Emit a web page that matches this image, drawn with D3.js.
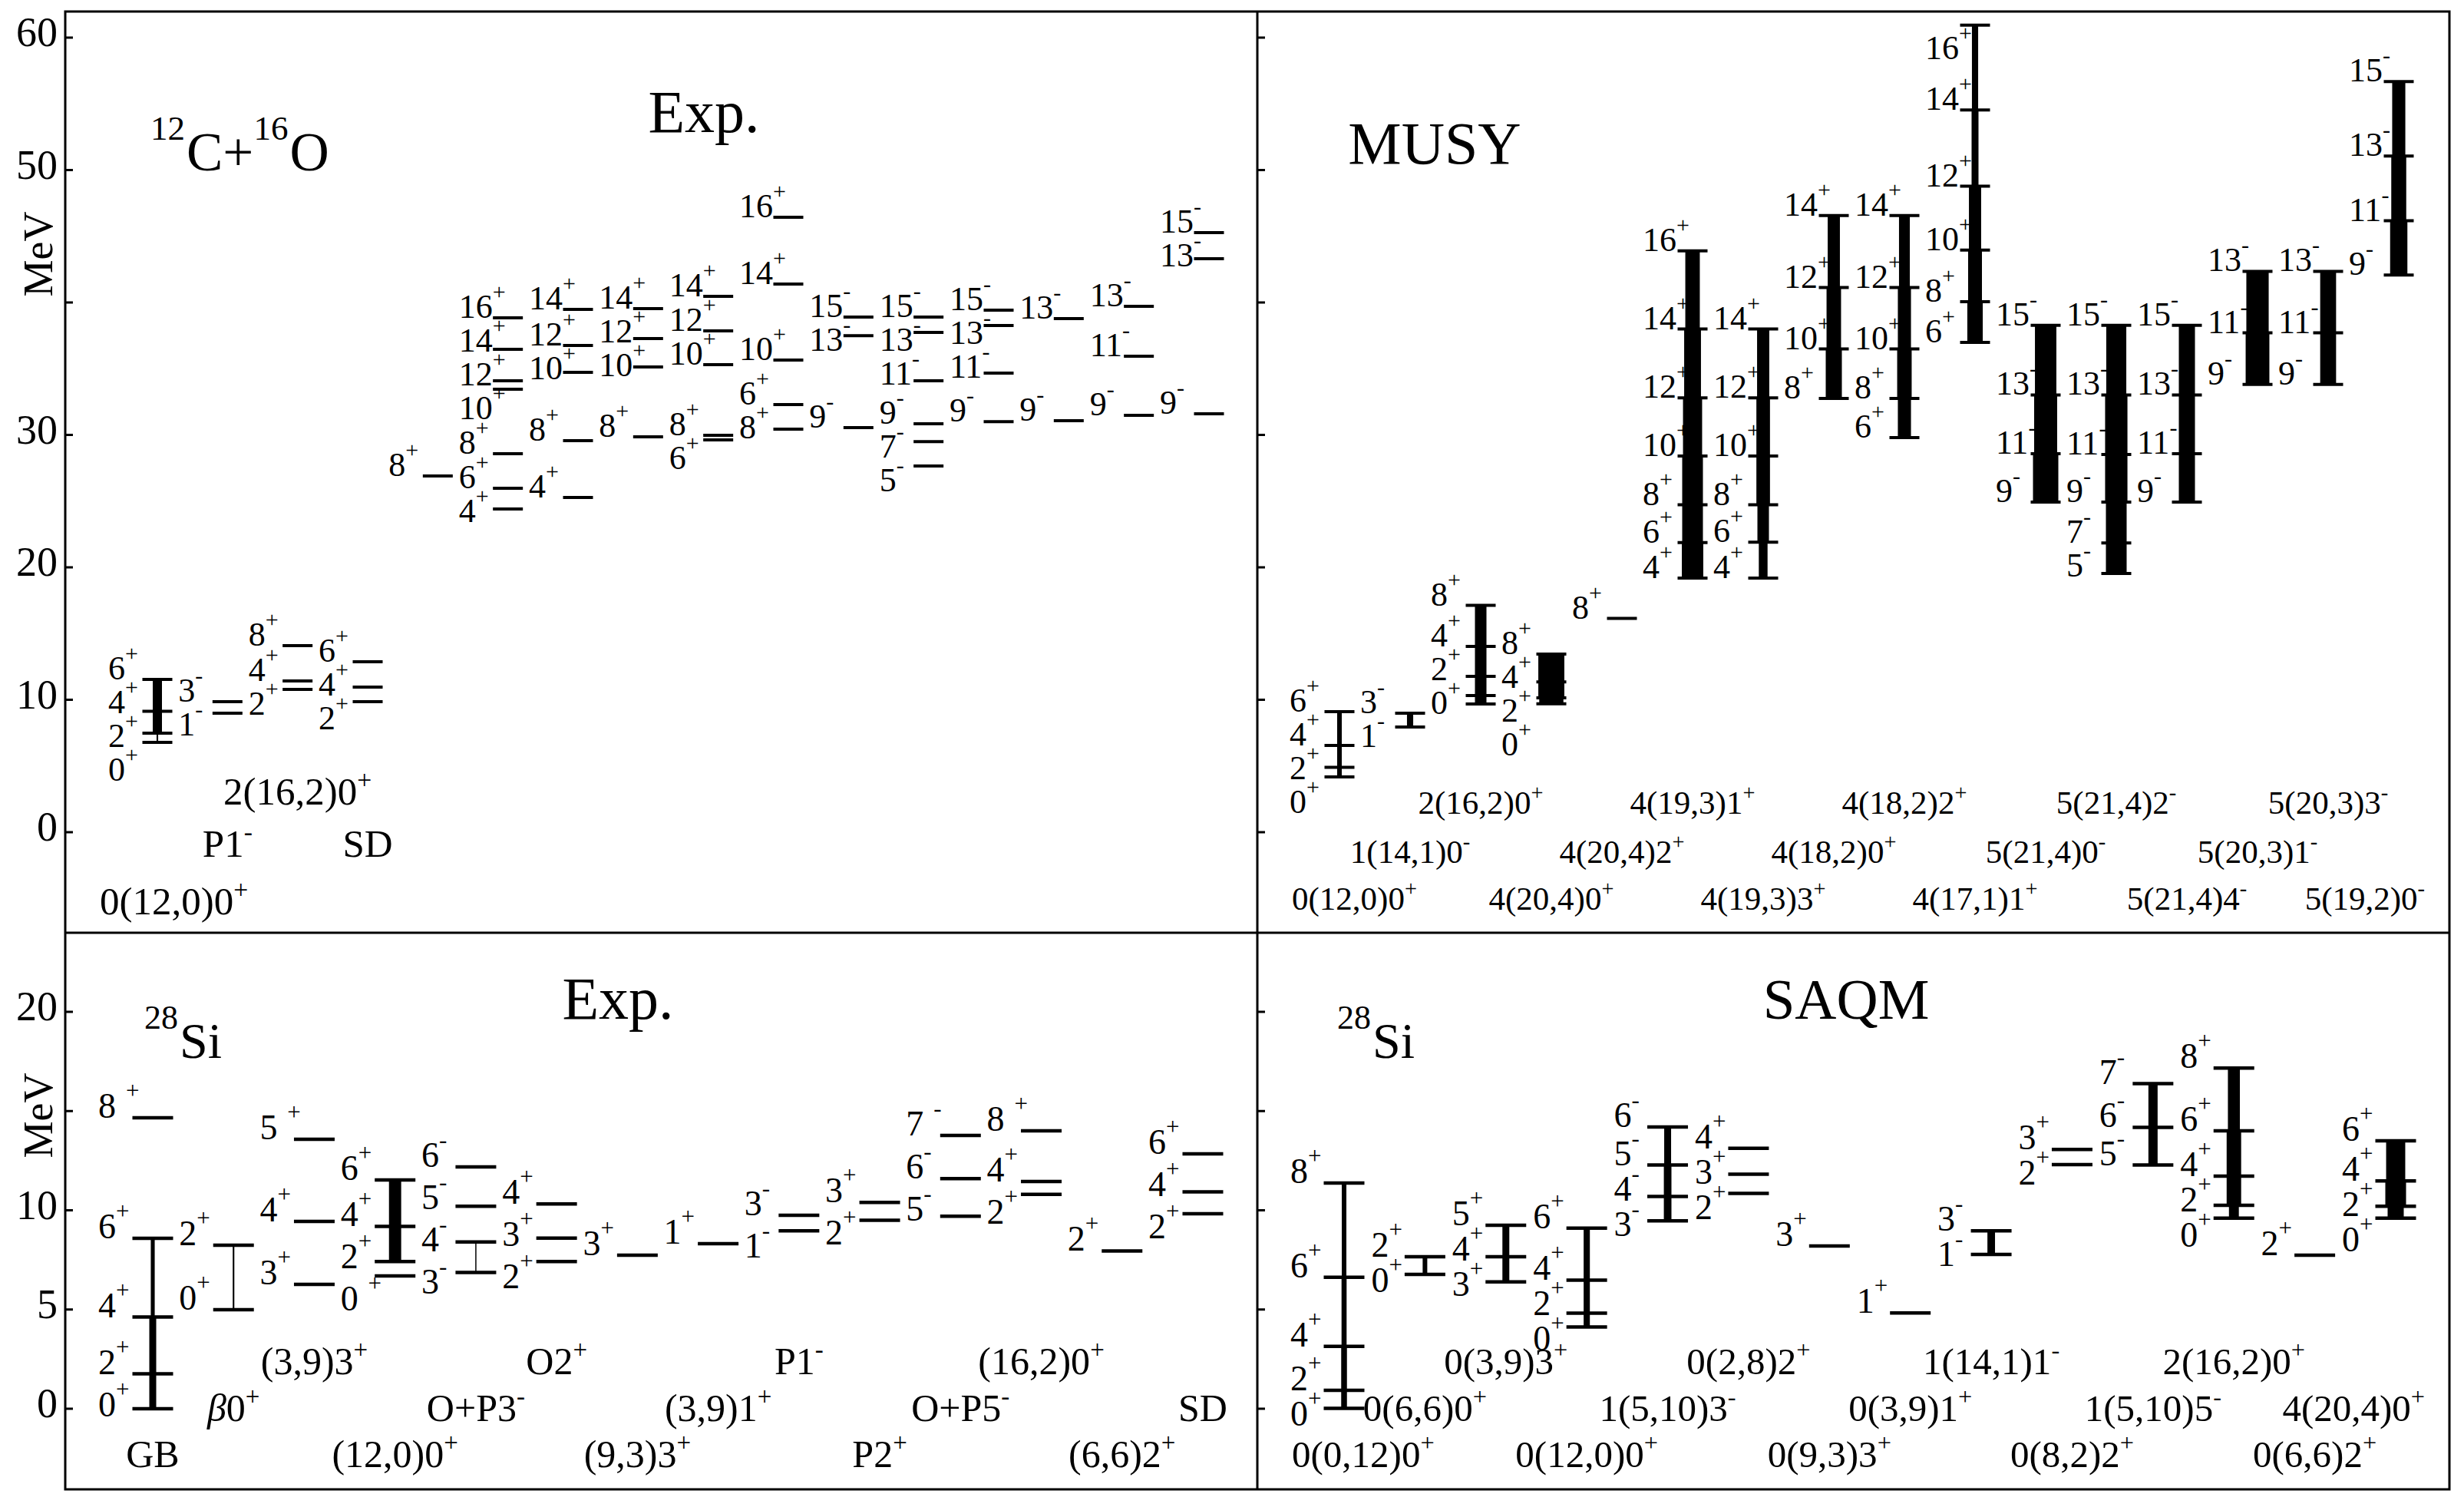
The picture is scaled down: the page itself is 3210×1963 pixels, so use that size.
<!DOCTYPE html>
<html><head><meta charset="utf-8">
<script src="https://cdn.jsdelivr.net/npm/d3@7"></script>
<style>
body{margin:0;background:#fff}
svg{display:block}
text{font-family:"Liberation Serif","Times New Roman",serif;fill:#000}
</style>
</head><body>
<svg id="c" width="3210" height="1963"></svg>
<script>
// ---------------- DATA ----------------
const yTicksTop = [0, 10, 20, 30, 40, 50, 60];
const yTickLabelsTop = [0, 10, 20, 30, 50, 60];      // 40 is replaced by "MeV"
const yTicksBottom = [0, 5, 10, 15, 20];
const yTickLabelsBottom = [0, 5, 10, 20];            // 15 is replaced by "MeV"

// 12C+16O experimental (MeV, J^pi)
const coExpLevels = [
  [[6.78,"0+"],[7.48,"2+"],[9.13,"4+"],[11.54,"6+"]],
  [[8.99,"1-"],[9.86,"3-"]],
  [[10.78,"2+"],[11.42,"4+"],[14.09,"8+"]],
  [[9.86,"2+"],[10.96,"4+"],[12.87,"6+"]],
  [[26.9,"8+"]],
  [[24.4,"4+"],[25.97,"6+"],[28.58,"8+"],[33.45,"10+"],[34.09,"12+"],[36.46,"14+"],[38.84,"16+"]],
  [[25.28,"4+"],[29.57,"8+"],[34.72,"10+"],[36.75,"12+"],[39.48,"14+"]],
  [[29.86,"8+"],[35.13,"10+"],[37.28,"12+"],[39.54,"14+"]],
  [[29.62,"6+"],[29.97,"8+"],[35.3,"10+"],[37.86,"12+"],[40.46,"14+"]],
  [[30.43,"8+"],[32.29,"6+"],[35.65,"10+"],[41.39,"14+"],[46.43,"16+"]],
  [[30.55,"9-"],[37.5,"13-"],[38.9,"15-"]],
  [[27.65,"5-"],[29.5,"7-"],[30.84,"9-"],[34.09,"11-"],[37.74,"13-"],[38.9,"15-"]],
  [[31.0,"9-"],[34.67,"11-"],[38.26,"13-"],[39.42,"15-"]],
  [[31.07,"9-"],[38.78,"13-"]],
  [[31.48,"9-"],[35.94,"11-"],[39.71,"13-"]],
  [[31.59,"9-"],[43.3,"13-"],[45.28,"15-"]]
];
const coExpStrength = [[0.7,4,4]];
const coExpBands = ["0(12,0)0^+","P1^-","2(16,2)0^+","SD"];
const coExpBandRows = [2,1,0,1];

// MUSY
const musyLevels = [
  [[4.17,"0+"],[4.9,"2+"],[6.55,"4+"],[9.1,"6+"]],
  [[7.94,"1-"],[8.99,"3-"]],
  [[9.68,""],[10.32,"0+"],[11.77,"2+"],[14.03,"4+"],[17.13,"8+"]],
  [[9.7,"0+"],[10.15,"2+"],[11.35,"4+"],[13.45,"8+"]],
  [[16.14,"8+"]],
  [[19.19,"4+"],[21.87,"6+"],[24.72,"8+"],[28.4,"10+"],[32.8,"12+"],[38.0,"14+"],[43.9,"16+"]],
  [[19.19,"4+"],[21.9,"6+"],[24.72,"8+"],[28.4,"10+"],[32.8,"12+"],[38.0,"14+"]],
  [[32.76,"8+"],[36.49,"10+"],[41.13,"12+"],[46.57,"14+"]],
  [[29.8,"6+"],[32.76,"8+"],[36.49,"10+"],[41.13,"12+"],[46.57,"14+"]],
  [[36.98,"6+"],[40.06,"8+"],[43.95,"10+"],[48.78,"12+"],[54.53,"14+"],[60.94,"16+"]],
  [[24.93,"9-"],[28.58,"11-"],[33.02,"13-"],[38.27,"15-"]],
  [[19.54,"5-"],[21.84,"7-"],[24.93,"9-"],[28.52,"11-"],[33.02,"13-"],[38.27,"15-"]],
  [[24.93,"9-"],[28.58,"11-"],[33.02,"13-"],[38.27,"15-"]],
  [[33.81,"9-"],[37.71,"11-"],[42.35,"13-"]],
  [[33.81,"9-"],[37.71,"11-"],[42.35,"13-"]],
  [[42.07,"9-"],[46.17,"11-"],[51.06,"13-"],[56.68,"15-"]]
];
const musyStrength = [
  [2,2,2],[2.7],[5,5,5,5],[10.5,11.3,11.3],[],
  [9.3,9,9,8.3,7.3,6.3],[3.8,5,5.9,5.9,5.3],[7,6.3,5.3],[5.7,6.3,5.7,4.7],
  [6.7,6,5.3,3,2.7],[11,10,9.3],[9,9,9.7,9.7,8.7],[7,7,7],[10.3,9.7],[6.9,6.9],[7.5,6.5,5.7]
];
const musyBands = ["0(12,0)0^+","1(14,1)0^-","2(16,2)0^+","4(20,4)0^+","4(20,4)2^+","4(19,3)1^+",
  "4(19,3)3^+","4(18,2)0^+","4(18,2)2^+","4(17,1)1^+","5(21,4)0^-","5(21,4)2^-","5(21,4)4^-",
  "5(20,3)1^-","5(20,3)3^-","5(19,2)0^-"];
const musyBandRows = [2,1,0,2,1,0,2,1,0,2,1,0,2,1,0,2];

// 28Si experimental
const siExpLevels = [
  [[0,"0+"],[1.76,"2+"],[4.62,"4+"],[8.59,"6+"],[14.66,"8 +"]],
  [[4.99,"0+"],[8.24,"2+"]],
  [[6.27,"3+"],[9.44,"4+"],[13.58,"5 +"]],
  [[6.69,"0 +"],[7.42,"2+"],[9.19,"4+"],[11.53,"6+"]],
  [[6.87,"3-"],[8.4,"4-"],[10.2,"5-"],[12.19,"6-"]],
  [[7.42,"2+"],[8.6,"3+"],[10.32,"4+"]],
  [[7.74,"3+"]],
  [[8.32,"1+"]],
  [[8.97,"1-"],[9.75,"3-"]],
  [[9.5,"2+"],[10.4,"3+"]],
  [[9.7,"5-"],[11.6,"6-"],[13.77,"7 -"]],
  [[10.8,"2+"],[11.45,"4+"],[14.0,"8 +"]],
  [[7.95,"2+"]],
  [[9.83,"2+"],[10.93,"4+"],[12.84,"6+"]]
];
const siExpStrength = [[3,3,1.7,0],[0.7],[],[0,5.3,5.3],[0.5,0,0]];
const siExpBands = ["GB","β0^+","(3,9)3^+","(12,0)0^+","O+P3^-","O2^+","(9,3)3^+","(3,9)1^+",
  "P1^-","P2^+","O+P5^-","(16,2)0^+","(6,6)2^+","SD"];
const siExpBandRows = [2,1,0,2,1,0,2,1,0,2,1,0,2,1];

// SAQM
const saqmLevels = [
  [[0.02,"0+"],[0.93,"2+"],[3.14,"4+"],[6.62,"6+"],[11.37,"8+"]],
  [[6.77,"0+"],[7.66,"2+"]],
  [[6.39,"3+"],[7.66,"4+"],[9.25,"5+"]],
  [[4.12,"0+"],[4.82,"2+"],[6.48,"4+"],[9.1,"6+"]],
  [[9.47,"3-"],[10.7,"4-"],[12.28,"5-"],[14.2,"6-"]],
  [[10.85,"2+"],[11.82,"3+"],[13.12,"4+"]],
  [[8.2,"3+"]],
  [[4.83,"1+"]],
  [[7.78,"1-"],[8.97,"3-"]],
  [[12.3,"2+"],[13.07,"3+"]],
  [[12.28,"5-"],[14.18,"6-"],[16.38,"7-"]],
  [[9.6,"0+"],[10.25,"2+"],[11.72,"4+"],[14.0,"6+"],[17.17,"8+"]],
  [[7.74,"2+"]],
  [[9.6,"0+"],[10.2,"2+"],[11.48,"4+"],[13.5,"6+"]]
];
const saqmStrength = [[2.5,2.5,2.2,2],[2],[3,3],[2.7,2.7,2.7],[3.3,3.3,3],[],[],[],[3.3],[],[4,4],
  [4.3,6.3,6.3,5.2],[],[7,9,8.3]];
const saqmBands = ["0(0,12)0^+","0(6,6)0^+","0(3,9)3^+","0(12,0)0^+","1(5,10)3^-","0(2,8)2^+",
  "0(9,3)3^+","0(3,9)1^+","1(14,1)1^-","0(8,2)2^+","1(5,10)5^-","2(16,2)0^+","0(6,6)2^+","4(20,4)0^+"];
const saqmBandRows = [2,1,0,2,1,0,2,1,0,2,1,0,2,1];

// ---------------- LAYOUT ----------------
const svg = d3.select("#c");
const L = 85, M = 1638, R = 3191, T = 15, H = 1215, B = 1940;

const yTop = d3.scaleLinear().domain([0, 60]).range([1084, 49]);
const yBot = d3.scaleLinear().domain([0, 20]).range([1835, 1318]);
const wScale = d3.scaleLinear().domain([0, 10]).range([0, 30]);

const panels = [
  {levels: coExpLevels, strength: coExpStrength, bands: coExpBands, rows: coExpBandRows,
   x0: L, x1: M, y0: T, y: yTop, cols: [205, 1575], half: 19.5, lw: 4, labOff: 64,
   lf: 44, sf: 30, rise: 24, spacing: 44, bf: 51, rowY: [1048, 1116, 1191]},
  {levels: musyLevels, strength: musyStrength, bands: musyBands, rows: musyBandRows,
   x0: M, x1: R, y0: T, y: yTop, cols: [1745, 3125], half: 19.5, lw: 4, labOff: 65,
   lf: 44, sf: 30, rise: 24, spacing: 44, bf: 43, rowY: [1060, 1124, 1185]},
  {levels: siExpLevels, strength: siExpStrength, bands: siExpBands, rows: siExpBandRows,
   x0: L, x1: M, y0: H, y: yBot, cols: [199, 1567], half: 26.5, lw: 4.5, labOff: 71,
   lf: 46, sf: 31, rise: 25, spacing: 55, bf: 50, rowY: [1790, 1851, 1911]},
  {levels: saqmLevels, strength: saqmStrength, bands: saqmBands, rows: saqmBandRows,
   x0: M, x1: R, y0: H, y: yBot, cols: [1751, 3121], half: 26.5, lw: 4.5, labOff: 70,
   lf: 46, sf: 31, rise: 25, spacing: 46, bf: 49, rowY: [1790, 1851, 1911]}
];

function drawPanel(p) {
  const g = svg.append("g");
  const gl = g.append("g"), gt = g.append("g");
  const x = d3.scaleLinear().domain([0, p.levels.length - 1]).range(p.cols);
  const y = p.y;
  p.levels.forEach((col, i) => {
    const cx = x(i);
    const lv = col.map(d => ({E: d[0], lab: d[1]})).sort((a, b) => a.E - b.E);
    (p.strength[i] || []).forEach((s, k) => {
      if (s <= 0 || !lv[k + 1]) return;
      gl.append("rect")
        .attr("x", cx - wScale(s) / 2).attr("width", wScale(s))
        .attr("y", y(lv[k + 1].E)).attr("height", y(lv[k].E) - y(lv[k + 1].E))
        .attr("fill", "#000");
    });
    gl.selectAll(null).data(lv).enter().append("line")
      .attr("x1", cx - p.half).attr("x2", cx + p.half)
      .attr("y1", d => y(d.E)).attr("y2", d => y(d.E))
      .attr("stroke", "#000").attr("stroke-width", p.lw);
    const labeled = lv.filter(d => d.lab).sort((a, b) => b.E - a.E);
    let prev = -Infinity;
    labeled.forEach(d => {
      const yy = Math.max(y(d.E), prev + p.spacing, p.y0 + 62);
      prev = yy;
      const m = d.lab.match(/^(\d+)(\s*)([+\-])$/);
      const t = gt.append("text").attr("x", cx - p.labOff).attr("y", yy).attr("font-size", p.lf);
      t.append("tspan").text(m[1]);
      t.append("tspan").attr("dx", m[2] ? p.lf * 0.28 : 0).attr("dy", -p.rise)
        .attr("font-size", p.sf).text(m[3]);
    });
  });
  // band labels
  p.bands.forEach((b, i) => {
    if (!b) return;
    const parts = b.split("^");
    const t = gt.append("text").attr("x", x(i)).attr("y", p.rowY[p.rows[i]])
      .attr("text-anchor", "middle").attr("font-size", p.bf);
    const main = parts[0];
    if (main.startsWith("β")) {
      t.append("tspan").attr("font-style", "italic").text("β");
      t.append("tspan").text(main.slice(1));
    } else t.append("tspan").text(main);
    if (parts[1]) t.append("tspan").attr("dy", -p.bf * 0.42).attr("font-size", p.bf * 0.66).text(parts[1]);
    const bb = t.node().getBBox();
    let shift = 0;
    if (bb.x < p.x0 + 45) shift = p.x0 + 45 - bb.x;
    if (bb.x + bb.width > p.x1 - 32) shift = p.x1 - 32 - (bb.x + bb.width);
    if (shift) t.attr("x", x(i) + shift);
  });
}
panels.forEach(drawPanel);

// ---------------- FRAME & AXES ----------------
svg.append("rect").attr("x", L).attr("y", T).attr("width", R - L).attr("height", B - T)
  .attr("fill", "none").attr("stroke", "#000").attr("stroke-width", 3);
svg.append("line").attr("x1", L).attr("x2", R).attr("y1", H).attr("y2", H)
  .attr("stroke", "#000").attr("stroke-width", 3);
svg.append("line").attr("x1", M).attr("x2", M).attr("y1", T).attr("y2", B)
  .attr("stroke", "#000").attr("stroke-width", 3);

function ticks(scale, vals, labels) {
  [L, M].forEach(ax => {
    svg.selectAll(null).data(vals).enter().append("line")
      .attr("x1", ax).attr("x2", ax + 10)
      .attr("y1", d => scale(d)).attr("y2", d => scale(d))
      .attr("stroke", "#000").attr("stroke-width", 3);
  });
  svg.selectAll(null).data(labels).enter().append("text")
    .attr("x", 75).attr("y", d => scale(d) + 11)
    .attr("text-anchor", "end").attr("font-size", 54).text(d => d);
}
ticks(yTop, yTicksTop, yTickLabelsTop);
ticks(yBot, yTicksBottom, yTickLabelsBottom);

[331, 1453].forEach(cy => {
  svg.append("text").attr("transform", `translate(68,${cy}) rotate(-90)`)
    .attr("text-anchor", "middle").attr("font-size", 54).text("MeV");
});

// titles
function title(x, yb, txt, fs, anchor) {
  svg.append("text").attr("x", x).attr("y", yb).attr("font-size", fs)
    .attr("text-anchor", anchor || "middle").text(txt);
}
title(917, 172, "Exp.", 78);
title(1869, 213, "MUSY", 78);
title(805, 1327, "Exp.", 78);
title(2405, 1327, "SAQM", 75);

function nucl(x, yb, parts, fs, sfs, rise) {
  const t = svg.append("text").attr("x", x).attr("y", yb).attr("font-size", fs);
  let up = false;
  parts.forEach(([s, sup]) => {
    const ts = t.append("tspan").text(s);
    if (sup && !up) { ts.attr("dy", -rise).attr("font-size", sfs); up = true; }
    else if (!sup && up) { ts.attr("dy", rise).attr("font-size", fs).attr("dx", 2); up = false; }
  });
}
nucl(196, 222, [["12", 1], ["C+", 0], ["16", 1], ["O", 0]], 71, 45, 40);
nucl(188, 1378, [["28", 1], ["Si", 0]], 66, 44, 38);
nucl(1742, 1378, [["28", 1], ["Si", 0]], 66, 44, 38);
</script>
</body></html>
